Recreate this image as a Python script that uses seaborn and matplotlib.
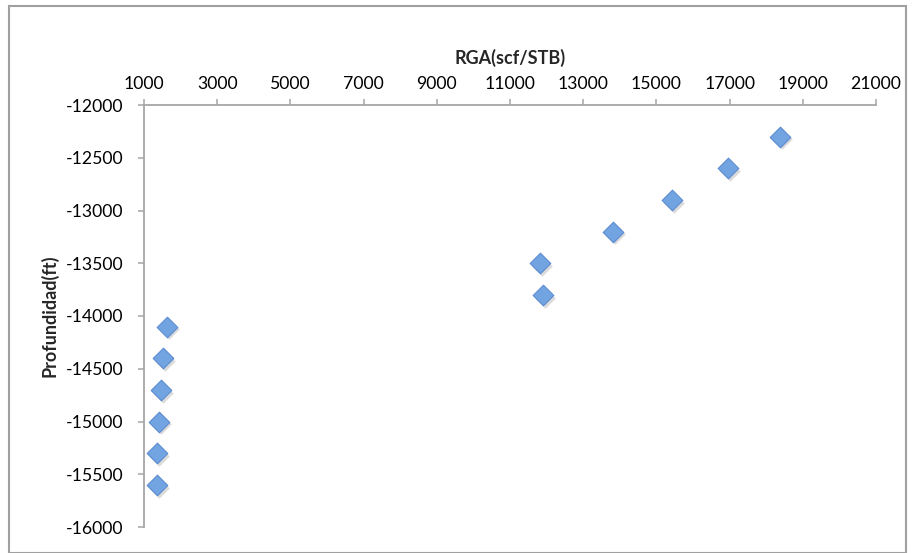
import matplotlib
matplotlib.use("Agg")
import matplotlib.pyplot as plt
import matplotlib.transforms as mtransforms
from matplotlib.patches import Rectangle
import seaborn as sns
import pandas as pd

# Gas-oil ratio vs. depth
rga = [1620, 1510, 1465, 1410, 1355, 1355,
       11830, 11910, 13810, 15430, 16960, 18380]
profundidad = [-14100, -14400, -14700, -15000, -15300, -15600,
               -13500, -13800, -13200, -12900, -12600, -12300]

x_ticks = list(range(1000, 21001, 2000))
y_ticks = list(range(-16000, -11999, 500))

df = pd.DataFrame({"RGA": rga, "Profundidad": profundidad})

sns.set_style("white")
plt.rcParams["font.family"] = ["Lato", "DejaVu Sans"]
plt.rcParams["axes.unicode_minus"] = False

fig = plt.figure(figsize=(9.17, 5.53), dpi=100)
ax = fig.add_axes([144 / 917, 1 - 527 / 553, (876 - 144) / 917, (527 - 105) / 553])

# soft drop shadow under each marker
shadow = mtransforms.offset_copy(ax.transData, fig=fig, x=1.5, y=-2.0, units="points")
ax.scatter(df["RGA"], df["Profundidad"], marker="D", s=110, color="#9a9a9a",
           alpha=0.35, linewidths=0, transform=shadow, zorder=2)

sns.scatterplot(data=df, x="RGA", y="Profundidad", marker="D", s=110,
                color="#72a4e2", edgecolor="#5a8bd0", linewidth=0.8,
                ax=ax, zorder=3, legend=False)

ax.set_xlim(1000, 21000)
ax.set_ylim(-16000, -12000)
ax.set_xticks(x_ticks)
ax.set_yticks(y_ticks)
ax.xaxis.tick_top()
ax.xaxis.set_label_position("top")

spine_color = "#a6a6a6"
for side in ("bottom", "right"):
    ax.spines[side].set_visible(False)
for side in ("top", "left"):
    ax.spines[side].set_visible(True)
    ax.spines[side].set_color(spine_color)
    ax.spines[side].set_linewidth(1.3)

ax.tick_params(axis="both", which="major", direction="out", length=4.5, width=1.1,
               color=spine_color, labelsize=12.7, labelcolor="black")
ax.tick_params(axis="x", pad=5, top=True, bottom=False)
ax.tick_params(axis="y", pad=10.5, left=True)

ax.set_xlabel("RGA(scf/STB)", fontsize=13, fontweight="bold")
ax.set_ylabel("Profundidad(ft)", fontsize=13, fontweight="bold")
ax.xaxis.set_label_coords(0.5, 1 + 41 / 422)
ax.yaxis.set_label_coords(-85 / 732, 0.5)

# chart area frame
fig.patches.append(Rectangle((9 / 917, 0.0), 897 / 917, 1 - 6 / 553,
                             transform=fig.transFigure, fill=False,
                             edgecolor="#a0a0a0", linewidth=1.5, zorder=0))

fig.savefig("out.png", dpi=100)
